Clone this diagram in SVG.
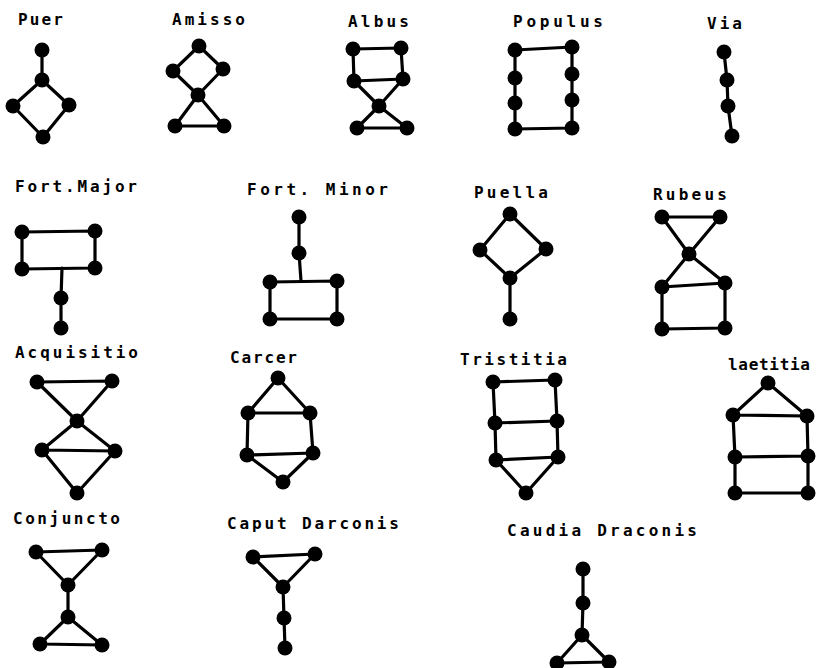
<svg xmlns="http://www.w3.org/2000/svg" width="818" height="668" viewBox="0 0 818 668">
<style>
.lbl{font-family:"DejaVu Sans Mono","Liberation Mono",monospace;font-weight:bold;font-size:16px;fill:#000}
.e{fill:none;stroke:#000;stroke-width:3.2;stroke-linejoin:round;stroke-linecap:round}
.d{fill:#000}
</style>
<rect width="818" height="668" fill="#fff"/>
<g id="puer">
<text class="lbl" x="18" y="25" textLength="45" lengthAdjust="spacing">Puer</text>
<g class="connectors"><path class="e" d="M42 50 L42 80 M42 80 L13 106 L43 137 L69 105 Z"/></g>
<g class="d"><circle cx="42" cy="50" r="7.5"/><circle cx="42" cy="80" r="7.5"/><circle cx="13" cy="106" r="7.5"/><circle cx="69" cy="105" r="7.5"/><circle cx="43" cy="137" r="7.5"/></g>
</g>
<g id="amisso">
<text class="lbl" x="172" y="25" textLength="73" lengthAdjust="spacing">Amisso</text>
<g class="connectors"><path class="e" d="M199 46 L173 71 L198 95 L223 69 Z M198 95 L175 126 L224 126 Z"/></g>
<g class="d"><circle cx="199" cy="46" r="7.5"/><circle cx="173" cy="71" r="7.5"/><circle cx="223" cy="69" r="7.5"/><circle cx="198" cy="95" r="7.5"/><circle cx="175" cy="126" r="7.5"/><circle cx="224" cy="126" r="7.5"/></g>
</g>
<g id="albus">
<text class="lbl" x="348" y="27" textLength="61" lengthAdjust="spacing">Albus</text>
<g class="connectors"><path class="e" d="M353 49 L401 48 L403 79 L354 81 Z M354 81 L379 106 L407 128 L357 128 L379 106 L403 79"/></g>
<g class="d"><circle cx="353" cy="49" r="7.5"/><circle cx="401" cy="48" r="7.5"/><circle cx="354" cy="81" r="7.5"/><circle cx="403" cy="79" r="7.5"/><circle cx="379" cy="106" r="7.5"/><circle cx="357" cy="128" r="7.5"/><circle cx="407" cy="128" r="7.5"/></g>
</g>
<g id="populus">
<text class="lbl" x="513" y="27" textLength="90" lengthAdjust="spacing">Populus</text>
<g class="connectors"><path class="e" d="M515 50 L572 47 L572 128 L515 129 Z"/></g>
<g class="d"><circle cx="515" cy="50" r="7.5"/><circle cx="515" cy="78" r="7.5"/><circle cx="515" cy="103" r="7.5"/><circle cx="515" cy="129" r="7.5"/><circle cx="572" cy="47" r="7.5"/><circle cx="572" cy="74" r="7.5"/><circle cx="572" cy="100" r="7.5"/><circle cx="572" cy="128" r="7.5"/></g>
</g>
<g id="via">
<text class="lbl" x="707" y="29" textLength="35" lengthAdjust="spacing">Via</text>
<g class="connectors"><path class="e" d="M724 52 L727 80 L728 106 L732 136"/></g>
<g class="d"><circle cx="724" cy="52" r="7.5"/><circle cx="727" cy="80" r="7.5"/><circle cx="728" cy="106" r="7.5"/><circle cx="732" cy="136" r="7.5"/></g>
</g>
<g id="fort-major">
<text class="lbl" x="15" y="192" textLength="122" lengthAdjust="spacing">Fort.Major</text>
<g class="connectors"><path class="e" d="M22 232 L95 231 L95 268 L22 269 Z M62 268 L61 298 L61 328"/></g>
<g class="d"><circle cx="22" cy="232" r="7.5"/><circle cx="95" cy="231" r="7.5"/><circle cx="22" cy="269" r="7.5"/><circle cx="95" cy="268" r="7.5"/><circle cx="61" cy="298" r="7.5"/><circle cx="61" cy="328" r="7.5"/></g>
</g>
<g id="fort-minor">
<text class="lbl" x="247" y="195" textLength="141" lengthAdjust="spacing">Fort. Minor</text>
<g class="connectors"><path class="e" d="M299 217 L299 253 L301 281 M270 282 L337 281 L337 319 L270 319 Z"/></g>
<g class="d"><circle cx="299" cy="217" r="7.5"/><circle cx="299" cy="253" r="7.5"/><circle cx="270" cy="282" r="7.5"/><circle cx="337" cy="281" r="7.5"/><circle cx="270" cy="319" r="7.5"/><circle cx="337" cy="319" r="7.5"/></g>
</g>
<g id="puella">
<text class="lbl" x="474" y="198" textLength="74" lengthAdjust="spacing">Puella</text>
<g class="connectors"><path class="e" d="M510 214 L546 249 L510 278 L480 250 Z M510 278 L510 319"/></g>
<g class="d"><circle cx="510" cy="214" r="7.5"/><circle cx="480" cy="250" r="7.5"/><circle cx="546" cy="249" r="7.5"/><circle cx="510" cy="278" r="7.5"/><circle cx="510" cy="319" r="7.5"/></g>
</g>
<g id="rubeus">
<text class="lbl" x="653" y="200" textLength="74" lengthAdjust="spacing">Rubeus</text>
<g class="connectors"><path class="e" d="M662 217 L720 217 L689 254 Z M689 254 L662 287 L725 283 Z M662 287 L662 329 L725 328 L725 283"/></g>
<g class="d"><circle cx="662" cy="217" r="7.5"/><circle cx="720" cy="217" r="7.5"/><circle cx="689" cy="254" r="7.5"/><circle cx="662" cy="287" r="7.5"/><circle cx="725" cy="283" r="7.5"/><circle cx="662" cy="329" r="7.5"/><circle cx="725" cy="328" r="7.5"/></g>
</g>
<g id="acquisitio">
<text class="lbl" x="15" y="358" textLength="123" lengthAdjust="spacing">Acquisitio</text>
<g class="connectors"><path class="e" d="M37 382 L112 381 L77 421 Z M77 421 L42 450 L115 451 Z M42 450 L77 493 L115 451"/></g>
<g class="d"><circle cx="37" cy="382" r="7.5"/><circle cx="112" cy="381" r="7.5"/><circle cx="77" cy="421" r="7.5"/><circle cx="42" cy="450" r="7.5"/><circle cx="115" cy="451" r="7.5"/><circle cx="77" cy="493" r="7.5"/></g>
</g>
<g id="carcer">
<text class="lbl" x="230" y="363" textLength="67" lengthAdjust="spacing">Carcer</text>
<g class="connectors"><path class="e" d="M278 378 L310 413 L248 413 Z M248 413 L247 455 L313 453 L310 413 M247 455 L283 482 L313 453"/></g>
<g class="d"><circle cx="278" cy="378" r="7.5"/><circle cx="248" cy="413" r="7.5"/><circle cx="310" cy="413" r="7.5"/><circle cx="247" cy="455" r="7.5"/><circle cx="313" cy="453" r="7.5"/><circle cx="283" cy="482" r="7.5"/></g>
</g>
<g id="tristitia">
<text class="lbl" x="460" y="365" textLength="107" lengthAdjust="spacing">Tristitia</text>
<g class="connectors"><path class="e" d="M493 382 L555 380 L557 421 L558 457 L496 460 L495 423 Z M495 423 L557 421 M496 460 L526 493 L558 457"/></g>
<g class="d"><circle cx="493" cy="382" r="7.5"/><circle cx="555" cy="380" r="7.5"/><circle cx="495" cy="423" r="7.5"/><circle cx="557" cy="421" r="7.5"/><circle cx="496" cy="460" r="7.5"/><circle cx="558" cy="457" r="7.5"/><circle cx="526" cy="493" r="7.5"/></g>
</g>
<g id="laetitia">
<text class="lbl" x="728" y="370" textLength="82" lengthAdjust="spacing">laetitia</text>
<g class="connectors"><path class="e" d="M768 383 L807 416 L733 415 Z M733 415 L735 457 L735 493 L808 493 L808 456 L807 416 M735 457 L808 456"/></g>
<g class="d"><circle cx="768" cy="383" r="7.5"/><circle cx="733" cy="415" r="7.5"/><circle cx="807" cy="416" r="7.5"/><circle cx="735" cy="457" r="7.5"/><circle cx="808" cy="456" r="7.5"/><circle cx="735" cy="493" r="7.5"/><circle cx="808" cy="493" r="7.5"/></g>
</g>
<g id="conjuncto">
<text class="lbl" x="13" y="524" textLength="107" lengthAdjust="spacing">Conjuncto</text>
<g class="connectors"><path class="e" d="M36 552 L102 550 L68 585 Z M68 585 L68 617 M68 617 L40 644 L102 645 Z"/></g>
<g class="d"><circle cx="36" cy="552" r="7.5"/><circle cx="102" cy="550" r="7.5"/><circle cx="68" cy="585" r="7.5"/><circle cx="68" cy="617" r="7.5"/><circle cx="40" cy="644" r="7.5"/><circle cx="102" cy="645" r="7.5"/></g>
</g>
<g id="caput-darconis">
<text class="lbl" x="227" y="529" textLength="172" lengthAdjust="spacing">Caput Darconis</text>
<g class="connectors"><path class="e" d="M253 557 L315 554 L283 587 Z M283 587 L284 618 L285 648"/></g>
<g class="d"><circle cx="253" cy="557" r="7.5"/><circle cx="315" cy="554" r="7.5"/><circle cx="283" cy="587" r="7.5"/><circle cx="284" cy="618" r="7.5"/><circle cx="285" cy="648" r="7.5"/></g>
</g>
<g id="caudia-draconis">
<text class="lbl" x="507" y="536" textLength="190" lengthAdjust="spacing">Caudia Draconis</text>
<g class="connectors"><path class="e" d="M583 569 L583 603 L582 635 M582 635 L557 663 L609 662 Z"/></g>
<g class="d"><circle cx="583" cy="569" r="7.5"/><circle cx="583" cy="603" r="7.5"/><circle cx="582" cy="635" r="7.5"/><circle cx="557" cy="663" r="7.5"/><circle cx="609" cy="662" r="7.5"/></g>
</g>
</svg>
